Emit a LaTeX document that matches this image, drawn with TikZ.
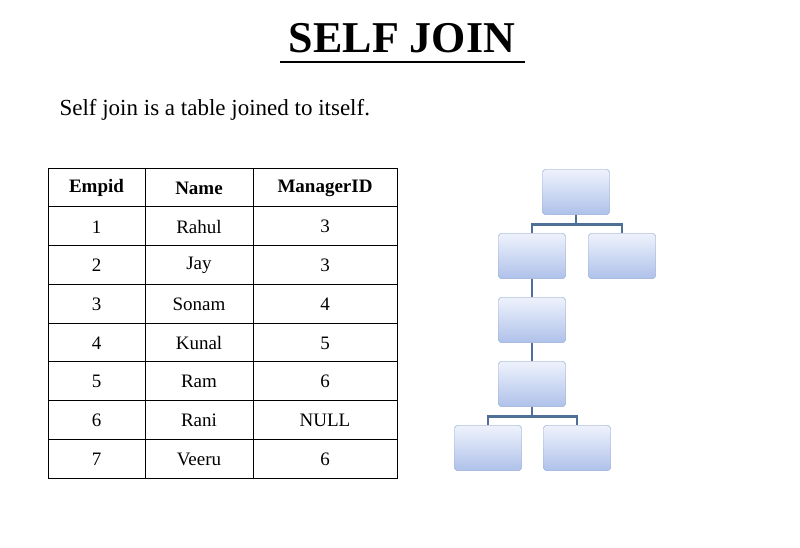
\documentclass[tikz,border=0pt]{standalone}
\usepackage{fontspec}
\setmainfont{Liberation Serif}
\begin{document}
\begin{tikzpicture}[x=1pt,y=-1pt,
  tbox/.style={draw=boxb,rounded corners=3pt,minimum width=67pt,minimum height=45pt,top color=boxt,bottom color=boxbot,font=\fontsize{17}{20}\selectfont,text=black!85},
  conn/.style={draw=lineb,line width=2.6pt},
  cell/.style={font=\fontsize{19}{22}\selectfont}]
\definecolor{boxb}{HTML}{9DB0D8}
\definecolor{boxt}{HTML}{EEF2FC}
\definecolor{boxbot}{HTML}{AFC1EA}
\definecolor{lineb}{HTML}{4E7096}
\useasboundingbox[fill=white] (0,0) rectangle (800,548);
\node[font=\bfseries\fontsize{44}{50}\selectfont] (title) at (402,38) {SELF JOIN};
\draw[line width=2.5pt] (280,62) -- (525,62);
\node[anchor=west,font=\fontsize{23}{27}\selectfont] (sub) at (56,110) {Self join is a table joined to itself.};
% table
\draw[line width=0.8pt] (48,168) rectangle (397,478);
\foreach \x in {145,253} \draw[line width=0.8pt] (\x,168) -- (\x,478);
\foreach \i in {1,...,7} \draw[line width=0.8pt] (48,{168+\i*38.75}) -- (397,{168+\i*38.75});
\node[cell,font=\bfseries\fontsize{19}{22}\selectfont] (h1) at (96.5,188) {Empid};
\node[cell,font=\bfseries\fontsize{19}{22}\selectfont] (h2) at (199,188) {Name};
\node[cell,font=\bfseries\fontsize{19}{22}\selectfont] (h3) at (325,188) {ManagerID};
\foreach \e/\n/\m [count=\i] in {1/Rahul/3,2/Jay/3,3/Sonam/4,4/Kunal/5,5/Ram/6,6/Rani/NULL,7/Veeru/6}{
  \node[cell] (e\i) at (96.5,{188+\i*38.75}) {\e};
  \node[cell] (n\i) at (199,{188+\i*38.75}) {\n};
  \node[cell] (m\i) at (325,{188+\i*38.75}) {\m};
}
% tree
\node[tbox] (rani) at (576,192) {Rani};
\node[tbox] (ram) at (532,256) {Ram};
\node[tbox] (veeru) at (622,256) {Veeru};
\node[tbox] (kunal) at (532,320) {Kunal};
\node[tbox] (sonam) at (532,384) {Sonam};
\node[tbox] (rahul) at (488,448) {Rahul};
\node[tbox] (jay) at (577,448) {Jay};
\draw[conn] (rani.south) -- ++(0,10) -| (ram.north);
\draw[conn] (rani.south) -- ++(0,10) -| (veeru.north);
\draw[conn] (ram) -- (kunal);
\draw[conn] (kunal) -- (sonam);
\draw[conn] (sonam.south) -- ++(0,10) -| (rahul.north);
\draw[conn] (sonam.south) -- ++(0,10) -| (jay.north);
\foreach \n in {rani,ram,veeru,kunal,sonam,rahul,jay}{
  \node[tbox] at (\n) {};
  \node[font=\fontsize{17}{20}\selectfont,text=black!85] at (\n) {\ifx\n\relax\fi};
}
\end{tikzpicture}
\end{document}
